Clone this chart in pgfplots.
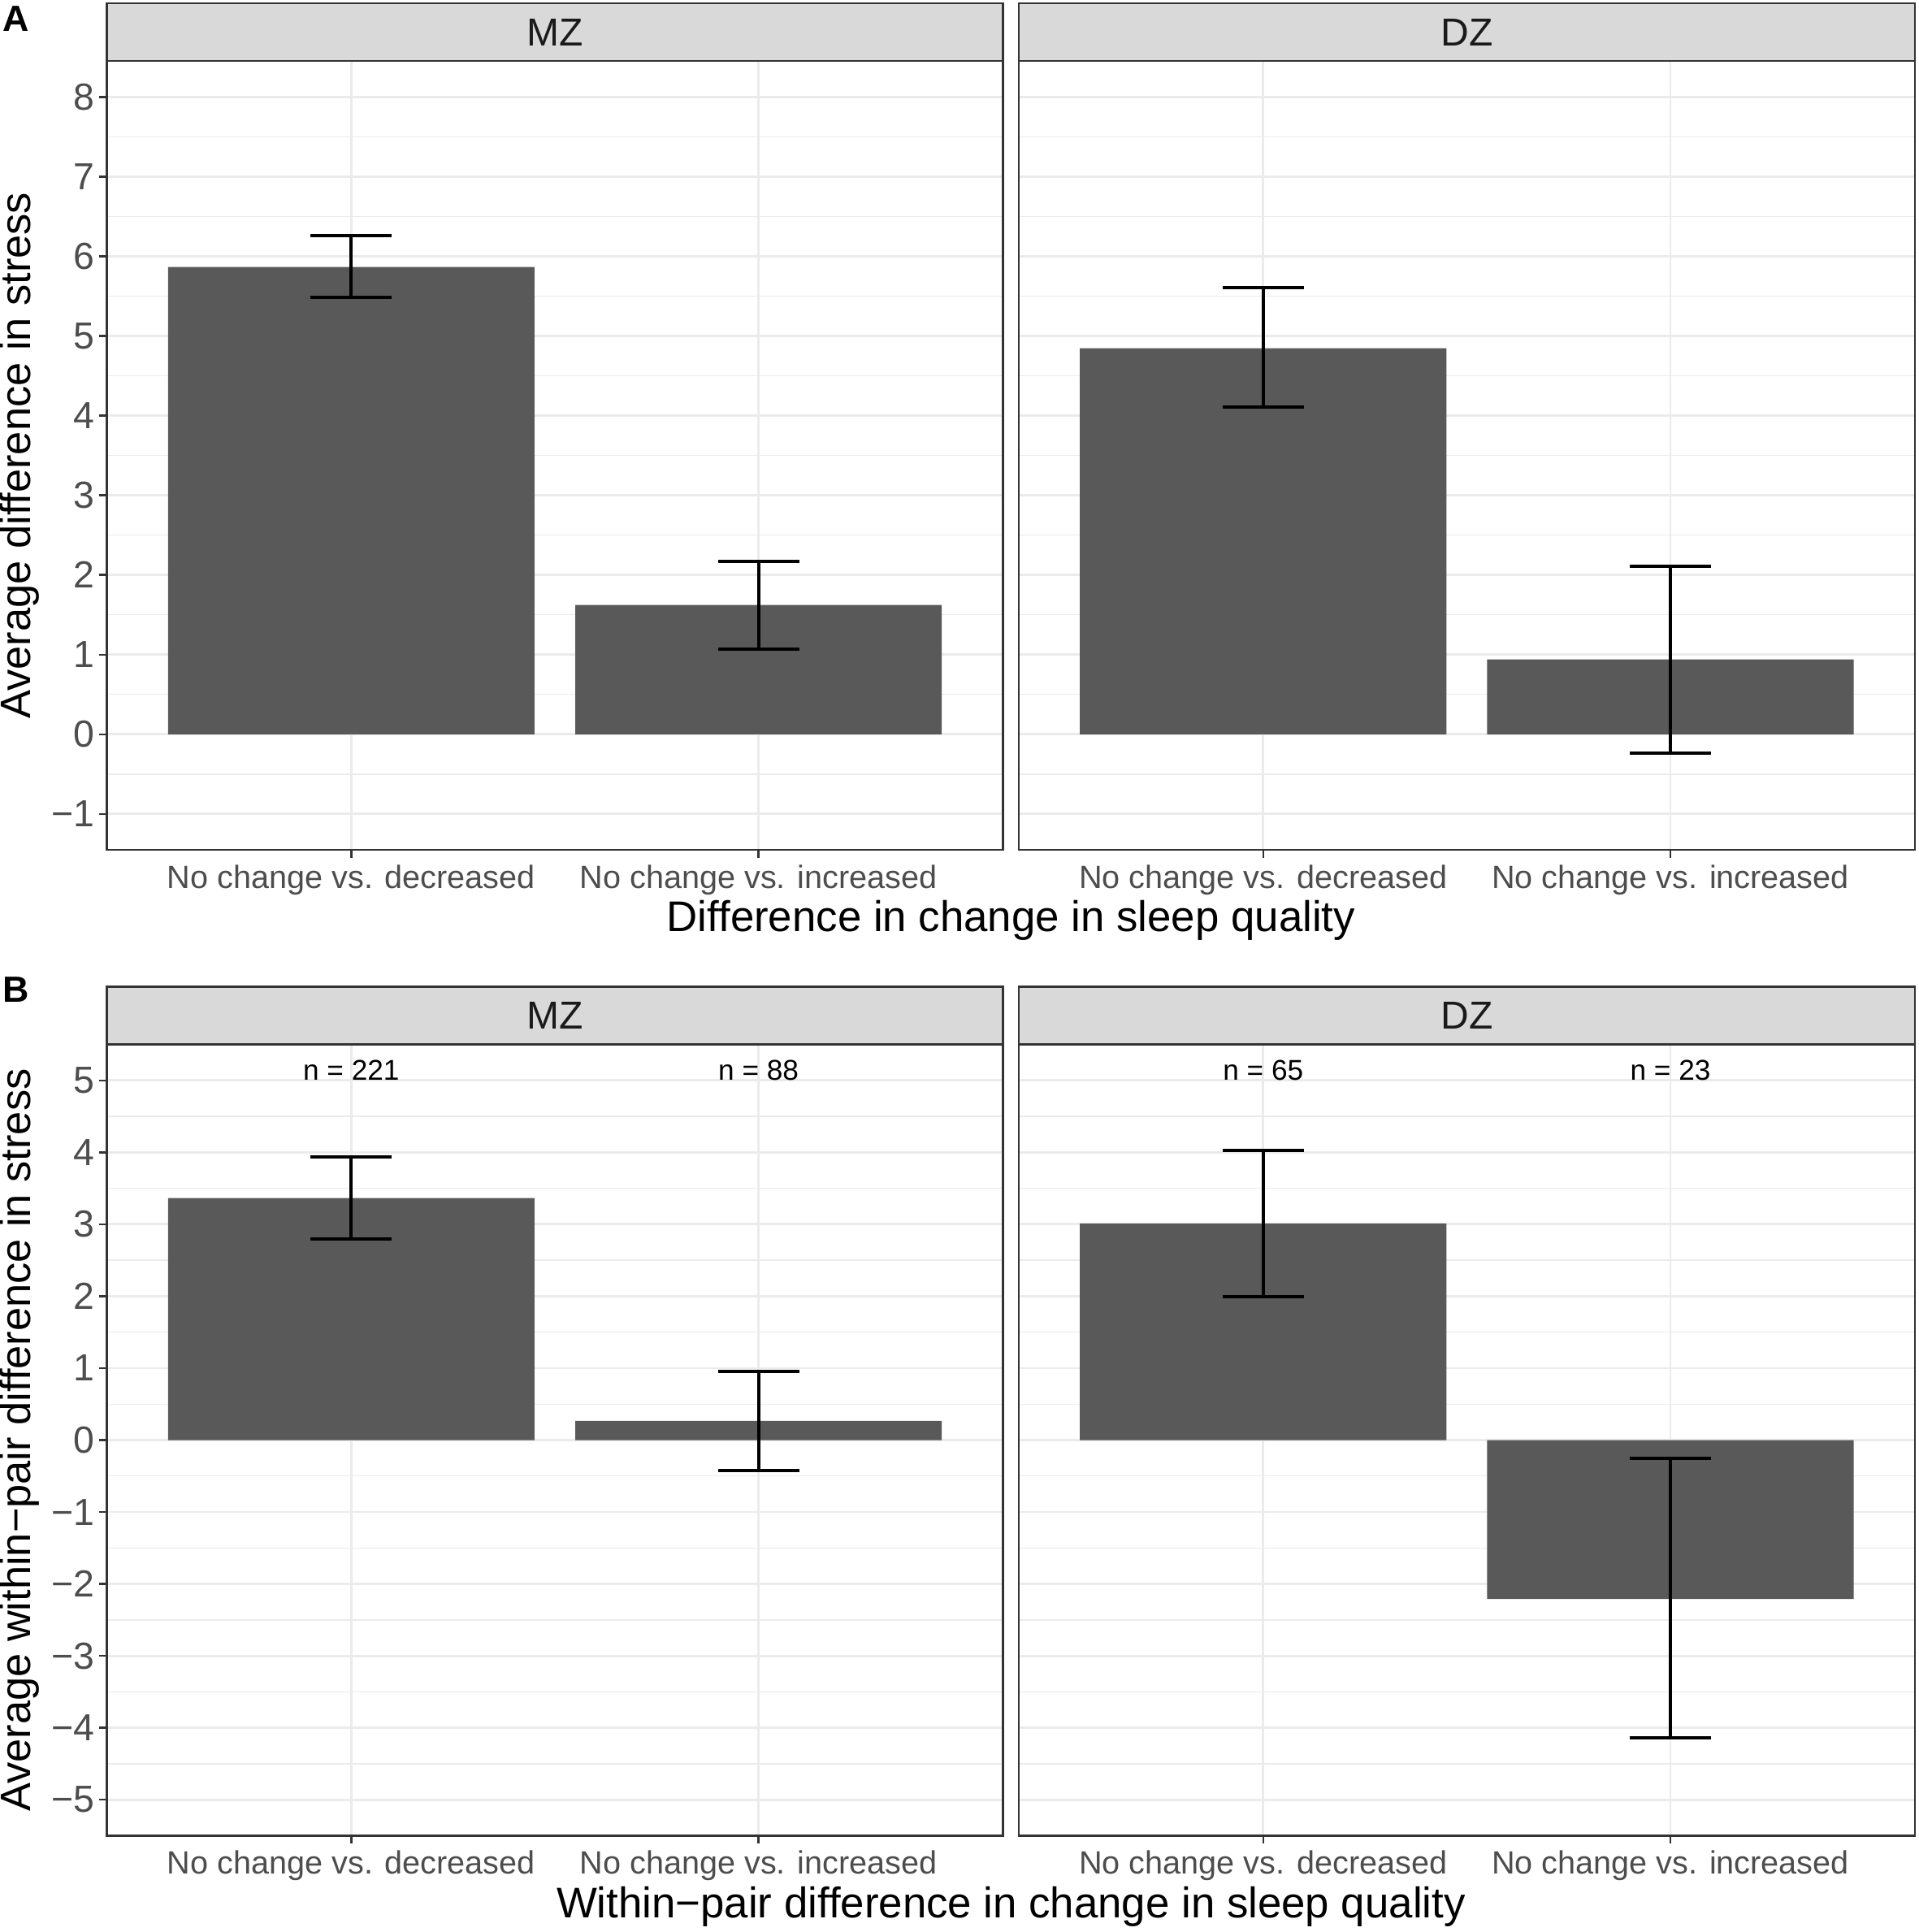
\documentclass[border=0pt]{standalone}
\usepackage{fontspec}
\setmainfont{Liberation Sans}
\usepackage{pgfplots}
\usepackage{pgfplotstable}
\pgfplotsset{compat=1.18}

\definecolor{barfill}{HTML}{595959}
\definecolor{gridc}{HTML}{EBEBEB}
\definecolor{framec}{HTML}{333333}
\definecolor{tickc}{HTML}{4D4D4D}
\definecolor{stripfill}{HTML}{D9D9D9}
\definecolor{striptext}{HTML}{1A1A1A}

% x  y  ep  em
\pgfplotstableread{
x y ep em
1 5.865 0.398 0.383
2 1.623 0.552 0.551
}\AMZ
\pgfplotstableread{
x y ep em
1 4.847 0.758 0.743
2 0.940 1.165 1.180
}\ADZ
\pgfplotstableread{
x y ep em
1 3.365 0.569 0.569
2 0.267 0.682 0.690
}\BMZ
\pgfplotstableread{
x y ep em
1 3.011 1.018 1.018
2 -2.209 1.959 1.932
}\BDZ

\pgfplotsset{
  panel/.style={
    scale only axis,
    width=275.7pt,
    xmin=0.4, xmax=2.6,
    xtick={1,2},
    xticklabels={No change vs. decreased, No change vs. increased},
    xtick pos=bottom, ytick pos=left,
    tick align=outside,
    major tick length=2.4pt,
    minor tick length=0pt,
    tick style={framec, line width=0.6pt},
    axis line style={framec, line width=0.6pt},
    grid=both,
    major grid style={gridc, line width=0.7pt},
    minor grid style={gridc, line width=0.35pt},
    xticklabel style={font=\fontsize{9.9}{11}\selectfont, text=tickc, inner sep=0pt, yshift=-2.1pt},
    yticklabel style={font=\fontsize{11.6}{13}\selectfont, text=tickc, inner sep=0pt, xshift=-1.2pt},
  },
  panelA/.style={panel, height=242.7pt, ymin=-1.45, ymax=8.45,
    ytick={-1,0,1,2,3,4,5,6,7,8},
    minor ytick={-0.5,0.5,1.5,2.5,3.5,4.5,5.5,6.5,7.5},
  },
  panelB/.style={panel, height=243.5pt, ymin=-5.5, ymax=5.5,
    ytick={-5,-4,-3,-2,-1,0,1,2,3,4,5},
    minor ytick={-4.5,-3.5,-2.5,-1.5,-0.5,0.5,1.5,2.5,3.5,4.5},
  },
  noy/.style={yticklabels={}, ytick style={draw=none}},
  barplot/.style={ybar, bar width=0.9, bar shift=0pt, fill=barfill, draw=none,
    error bars/.cd, y dir=both, y explicit,
    error bar style={black, line width=1pt},
    error mark options={black, line width=1pt, mark size=12.5pt, rotate=90}},
}

\begin{document}
\begin{tikzpicture}
\useasboundingbox (0,0) rectangle (590.5pt,594.5pt);

% ---------- Panel A ----------
\begin{axis}[panelA, name=amz, at={(32.9pt,333pt)}, anchor=south west,
  yticklabels={−1,0,1,2,3,4,5,6,7,8}]
  \addplot[barplot] table[x=x, y=y, y error plus=ep, y error minus=em] {\AMZ};
\end{axis}
\begin{axis}[panelA, noy, name=adz, at={(313.5pt,333pt)}, anchor=south west]
  \addplot[barplot] table[x=x, y=y, y error plus=ep, y error minus=em] {\ADZ};
\end{axis}

% ---------- Panel B ----------
\begin{axis}[panelB, name=bmz, at={(32.9pt,29.625pt)}, anchor=south west,
  yticklabels={−5,−4,−3,−2,−1,0,1,2,3,4,5}]
  \addplot[barplot] table[x=x, y=y, y error plus=ep, y error minus=em] {\BMZ};
  \node[anchor=base, font=\fontsize{8.8}{10}\selectfont] at (axis cs:1,5) {n = 221};
  \node[anchor=base, font=\fontsize{8.8}{10}\selectfont] at (axis cs:2,5) {n = 88};
\end{axis}
\begin{axis}[panelB, noy, name=bdz, at={(313.5pt,29.625pt)}, anchor=south west]
  \addplot[barplot] table[x=x, y=y, y error plus=ep, y error minus=em] {\BDZ};
  \node[anchor=base, font=\fontsize{8.8}{10}\selectfont] at (axis cs:1,5) {n = 65};
  \node[anchor=base, font=\fontsize{8.8}{10}\selectfont] at (axis cs:2,5) {n = 23};
\end{axis}

% ---------- strips ----------
\foreach \ax/\lab in {amz/MZ, adz/DZ, bmz/MZ, bdz/DZ}{
  \draw[fill=stripfill, draw=framec, line width=0.6pt]
    (\ax.north west) rectangle ([yshift=17.8pt]\ax.north east);
  \node[font=\fontsize{12}{14}\selectfont, text=striptext]
    at ([yshift=8.9pt]\ax.north) {\lab};
}

% ---------- titles ----------
\node[font=\fontsize{13.2}{15}\selectfont, anchor=base] at (311.1pt,{(2378-1147)*0.25pt}) {Difference in change in sleep quality};
\node[font=\fontsize{13.2}{15}\selectfont, anchor=base] at (311.1pt,{(2378-2360)*0.25pt}) {Within−pair difference in change in sleep quality};
\node[font=\fontsize{13.1}{15}\selectfont, rotate=90] at (6pt,{(2378-560.6)*0.25pt}) {Average difference in stress};
\node[font=\fontsize{13.1}{15}\selectfont, rotate=90] at (6pt,{(2378-1772.5)*0.25pt}) {Average within−pair difference in stress};

\node[font=\bfseries\fontsize{11.2}{13}\selectfont, anchor=base west, inner sep=0pt] at (0.8pt,{(2378-38.3)*0.25pt}) {A};
\node[font=\bfseries\fontsize{11.2}{13}\selectfont, anchor=base west, inner sep=0pt] at (0.8pt,{(2378-1233.3)*0.25pt}) {B};
\end{tikzpicture}
\end{document}
